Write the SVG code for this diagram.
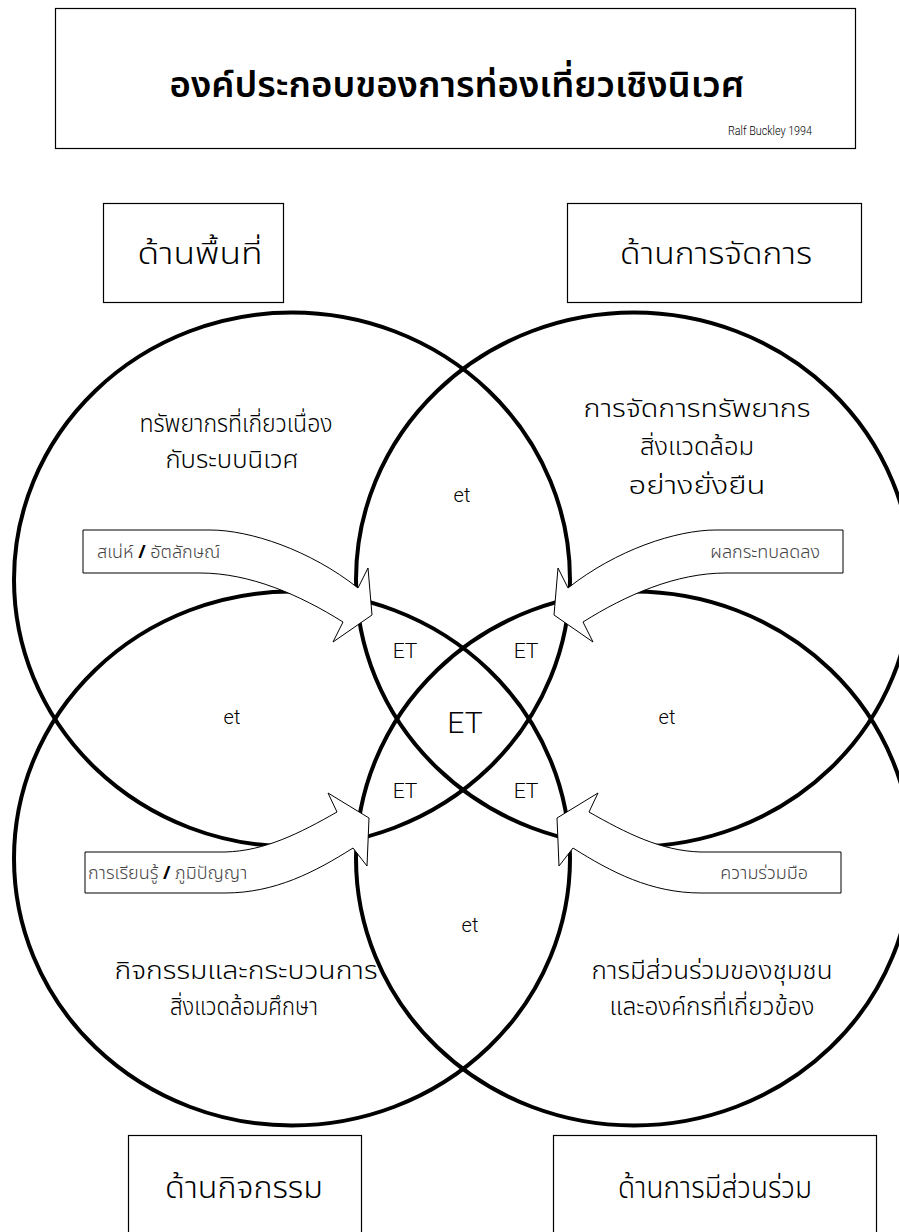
<svg xmlns="http://www.w3.org/2000/svg" width="899" height="1232" viewBox="0 0 899 1232">
<style>
.box{fill:#fff;stroke:#000;stroke-width:1.2}
.ring{fill:none;stroke:#000;stroke-width:4}
.arrow{fill:#fff;stroke:#000;stroke-width:1}
.th{font-family:"Noto Sans Thai","Noto Sans","DejaVu Sans",sans-serif;fill:#000;text-anchor:middle;font-weight:300}
.lbl{font-size:24px}
.big{font-size:30px}
.atx{font-size:18px;fill:#444;text-anchor:start}
.en{font-family:Roboto,"Liberation Sans",Arial,sans-serif;fill:#000;text-anchor:middle;font-weight:300}
</style>
<rect width="899" height="1232" fill="#fff"/>
<g id="title">
<rect class="box" x="55.5" y="8.5" width="800" height="140"/>
<text class="th" x="457" y="97" font-size="36" style="font-weight:600" textLength="575" lengthAdjust="spacingAndGlyphs">องค์ประกอบของการท่องเที่ยวเชิงนิเวศ</text>
<text class="en" x="812" y="135" font-size="13" textLength="84" lengthAdjust="spacingAndGlyphs" style="text-anchor:end">Ralf Buckley 1994</text>
</g>
<g id="box-area">
<rect class="box" x="103.5" y="203.5" width="180" height="99"/>
<text class="th big" x="200" y="264" textLength="125" lengthAdjust="spacingAndGlyphs">ด้านพื้นที่</text>
</g>
<g id="box-management">
<rect class="box" x="567.5" y="203.5" width="294" height="99"/>
<text class="th big" x="716" y="264" textLength="192" lengthAdjust="spacingAndGlyphs">ด้านการจัดการ</text>
</g>
<g id="box-activity">
<rect class="box" x="128.5" y="1135.5" width="233" height="100"/>
<text class="th big" x="244" y="1198" textLength="158" lengthAdjust="spacingAndGlyphs">ด้านกิจกรรม</text>
</g>
<g id="box-participation">
<rect class="box" x="553.5" y="1135.5" width="323" height="100"/>
<text class="th big" x="715" y="1198" textLength="194" lengthAdjust="spacingAndGlyphs">ด้านการมีส่วนร่วม</text>
</g>
<g id="circles">
<ellipse id="circle-area" class="ring" cx="292" cy="579.5" rx="278" ry="267"/>
<ellipse id="circle-management" class="ring" cx="634" cy="579.5" rx="278" ry="267"/>
<ellipse id="circle-activity" class="ring" cx="292" cy="858.5" rx="278" ry="267"/>
<ellipse id="circle-participation" class="ring" cx="634" cy="858.5" rx="278" ry="267"/>
</g>
<g id="connectors">
<path id="arrow-identity" class="arrow" d="M83,530 L210,530 C250,530 310,550 358,588 L368,568 L372,615 L333,642 L343,622 C300,595 250,573 200,573 L83,573 Z"/>
<path id="arrow-impact" class="arrow" transform="translate(926,0) scale(-1,1)" d="M83,530 L210,530 C250,530 310,550 358,588 L368,568 L372,615 L333,642 L343,622 C300,595 250,573 200,573 L83,573 Z"/>
<path id="arrow-learning" class="arrow" d="M85,852 L225,852 C265,851 300,833 337,812 L328,793 L369,818 L367,866 L353,848 C315,872 275,893 225,893 L85,893 Z"/>
<path id="arrow-cooperation" class="arrow" transform="translate(926,0) scale(-1,1)" d="M85,852 L225,852 C265,851 300,833 337,812 L328,793 L369,818 L367,866 L353,848 C315,872 275,893 225,893 L85,893 Z"/>
</g>
<g id="circle-texts">
<text class="th lbl" x="236" y="432" textLength="193" lengthAdjust="spacingAndGlyphs">ทรัพยากรที่เกี่ยวเนื่อง</text>
<text class="th lbl" x="232" y="468" textLength="133" lengthAdjust="spacingAndGlyphs">กับระบบนิเวศ</text>
<text class="th lbl" x="697" y="417" textLength="227" lengthAdjust="spacingAndGlyphs">การจัดการทรัพยากร</text>
<text class="th lbl" x="697" y="455" textLength="114" lengthAdjust="spacingAndGlyphs">สิ่งแวดล้อม</text>
<text class="th lbl" x="697" y="494" textLength="137" lengthAdjust="spacingAndGlyphs">อย่างยั่งยืน</text>
<text class="th lbl" x="246" y="979" textLength="263" lengthAdjust="spacingAndGlyphs">กิจกรรมและกระบวนการ</text>
<text class="th lbl" x="244" y="1015" textLength="148" lengthAdjust="spacingAndGlyphs">สิ่งแวดล้อมศึกษา</text>
<text class="th lbl" x="712" y="979" textLength="241" lengthAdjust="spacingAndGlyphs">การมีส่วนร่วมของชุมชน</text>
<text class="th lbl" x="712" y="1015" textLength="205" lengthAdjust="spacingAndGlyphs">และองค์กรที่เกี่ยวข้อง</text>
</g>
<g id="arrow-labels">
<text class="th atx" x="97" y="558">สเน่ห์ <tspan fill="#000" style="font-weight:bold">/</tspan> อัตลักษณ์</text>
<text class="th atx" x="820" y="558" style="text-anchor:end">ผลกระทบลดลง</text>
<text class="th atx" x="88" y="879">การเรียนรู้ <tspan fill="#000" style="font-weight:bold">/</tspan> ภูมิปัญญา</text>
<text class="th atx" x="808" y="879" style="text-anchor:end">ความร่วมมือ</text>
</g>
<g id="overlap-labels">
<text class="en" x="462" y="502" font-size="20">et</text>
<text class="en" x="232" y="724" font-size="20">et</text>
<text class="en" x="667" y="724" font-size="20">et</text>
<text class="en" x="470" y="932" font-size="20">et</text>
<text class="en" x="405" y="658" font-size="21">ET</text>
<text class="en" x="526" y="658" font-size="21">ET</text>
<text class="en" x="405" y="798" font-size="21">ET</text>
<text class="en" x="526" y="798" font-size="21">ET</text>
<text class="en" x="465" y="733" font-size="30">ET</text>
</g>
</svg>
